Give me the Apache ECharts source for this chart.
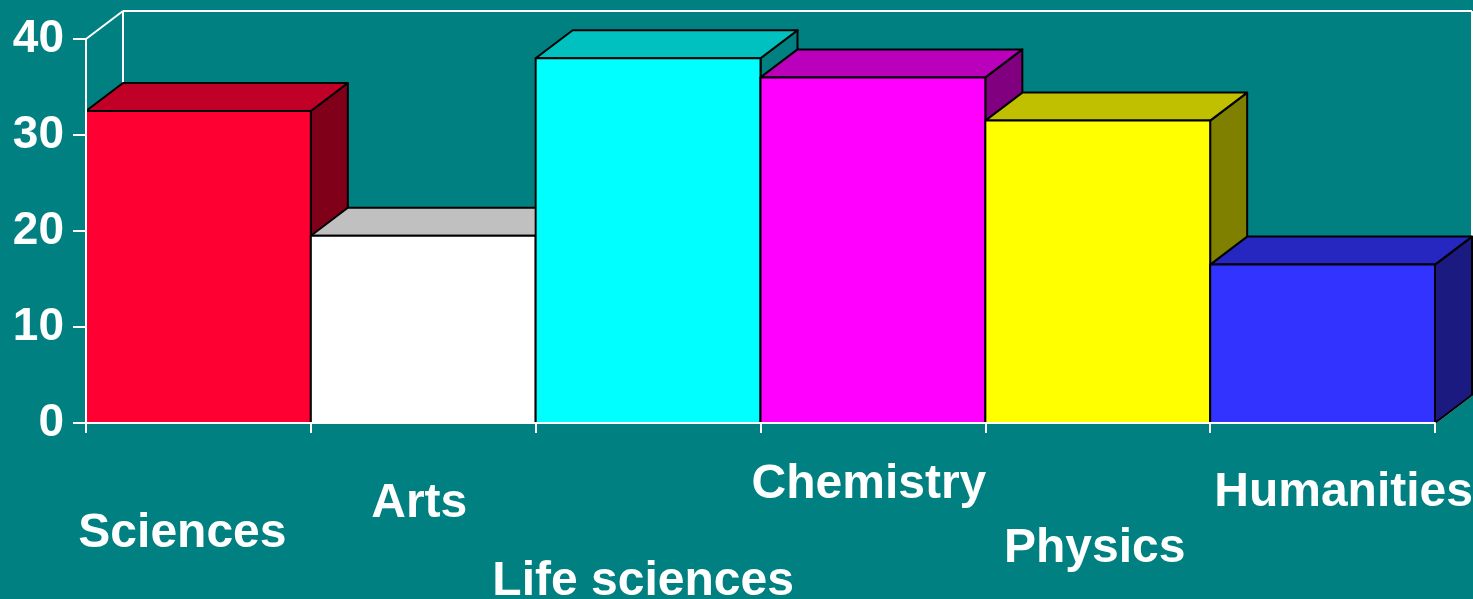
<!DOCTYPE html>
<html>
<head>
<meta charset="utf-8">
<script src="https://cdn.jsdelivr.net/npm/echarts@6/dist/echarts.min.js"></script>
<style>
  html, body { margin: 0; padding: 0; background: #008080; }
  #chart { width: 1473px; height: 599px; }
</style>
</head>
<body>
<div id="chart"></div>
<script>
// data
const categories = ["Sciences", "Arts", "Life sciences", "Chemistry", "Physics", "Humanities"];
const values = [32.5, 19.5, 38, 36, 31.5, 16.5];
const yTicks = [0, 10, 20, 30, 40];

// colours: front / top / side
const palette = [
  ["#FF0033", "#C00026", "#800019"],
  ["#FFFFFF", "#C0C0C0", "#808080"],
  ["#00FFFF", "#00C0C0", "#008080"],
  ["#FF00FF", "#BB00BB", "#800080"],
  ["#FFFF00", "#C0C000", "#808000"],
  ["#3333FF", "#2626C0", "#1A1A80"]
];

// depth of the 3d effect in px
const DX = 37, DY = -28;
const FONT = "'Liberation Sans', Arial, sans-serif";

let myChart = echarts.init(document.getElementById("chart"));

// staggered category labels: [top, right, bottom, left]
const labelPad = [[154, 32, 0, 0], [94, 8, 0, 0], [250, 10, 0, 0], [56, 8, 0, 0], [184, 6, 0, 0], [72, 0, 0, 42]];
const rich = {};
labelPad.forEach((p, i) => {
  rich["l" + i] = {
    color: "#fff", fontSize: 48, fontWeight: "bold", fontFamily: FONT,
    lineHeight: 48, padding: p
  };
});

function renderWall(params, api) {
  const cs = params.coordSys;
  const x0 = cs.x, y0 = cs.y, x1 = cs.x + cs.width, y1 = cs.y + cs.height;
  const st = { stroke: "#fff", lineWidth: 2 };
  const line = (a, b, c, d) => ({ type: "line", shape: { x1: a, y1: b, x2: c, y2: d }, style: st });
  return {
    type: "group",
    children: [
      line(x0, y0, x0 + DX, y0 + DY),
      line(x0 + DX, y0 + DY, x1 + DX, y0 + DY),
      line(x0 + DX, y0 + DY, x0 + DX, y1 + DY),
      line(x0 + DX, y1 + DY, x1 + DX, y1 + DY),
      line(x1, y1, x1 + DX, y1 + DY),
      line(x1 + DX, y0 + DY, x1 + DX, y1 + DY)
    ]
  };
}

function renderBar(params, api) {
  const i = api.value(0);
  const base = api.coord([i, 0]);
  const top = api.coord([i, api.value(1)]);
  const bw = api.size([1, 0])[0];
  const xa = base[0] - bw / 2, xb = base[0] + bw / 2;
  const yt = top[1], yb = base[1];
  const c = palette[i];
  const edge = { stroke: "#000", lineWidth: 2, lineJoin: "round" };
  return {
    type: "group",
    children: [
      {
        type: "polygon",
        shape: { points: [[xb, yt], [xb + DX, yt + DY], [xb + DX, yb + DY], [xb, yb]] },
        style: Object.assign({ fill: c[2] }, edge)
      },
      {
        type: "polygon",
        shape: { points: [[xa, yt], [xb, yt], [xb + DX, yt + DY], [xa + DX, yt + DY]] },
        style: Object.assign({ fill: c[1] }, edge)
      },
      {
        type: "rect",
        shape: { x: xa, y: yt, width: bw, height: yb - yt },
        style: Object.assign({ fill: c[0] }, edge)
      }
    ]
  };
}

myChart.setOption({
  backgroundColor: "#008080",
  animation: false,
  grid: { left: 86, right: 38, top: 39, bottom: 176, containLabel: false, outerBoundsMode: "none" },
  xAxis: {
    type: "category",
    data: categories,
    z: 5,
    axisLine: { lineStyle: { color: "#fff", width: 2 } },
    axisTick: { show: true, alignWithLabel: false, interval: 0, length: 10, lineStyle: { color: "#fff", width: 2 } },
    axisLabel: {
      interval: 0,
      margin: 10,
      formatter: (v, idx) => "{l" + idx + "|" + v + "}",
      rich: rich
    }
  },
  yAxis: {
    type: "value",
    min: yTicks[0],
    max: yTicks[yTicks.length - 1],
    interval: 10,
    z: 5,
    splitLine: { show: false },
    axisLine: { show: true, lineStyle: { color: "#fff", width: 2 } },
    axisTick: { show: true, length: 13, lineStyle: { color: "#fff", width: 2 } },
    axisLabel: {
      color: "#fff", fontSize: 46, fontWeight: "bold", fontFamily: FONT, margin: 22
    }
  },
  series: [
    { type: "custom", renderItem: renderWall, data: [[0, 0]], z: 1, silent: true },
    {
      type: "custom",
      renderItem: renderBar,
      data: values.map((v, i) => [i, v]),
      encode: { x: 0, y: 1 },
      z: 2
    }
  ]
});
</script>
</body>
</html>
